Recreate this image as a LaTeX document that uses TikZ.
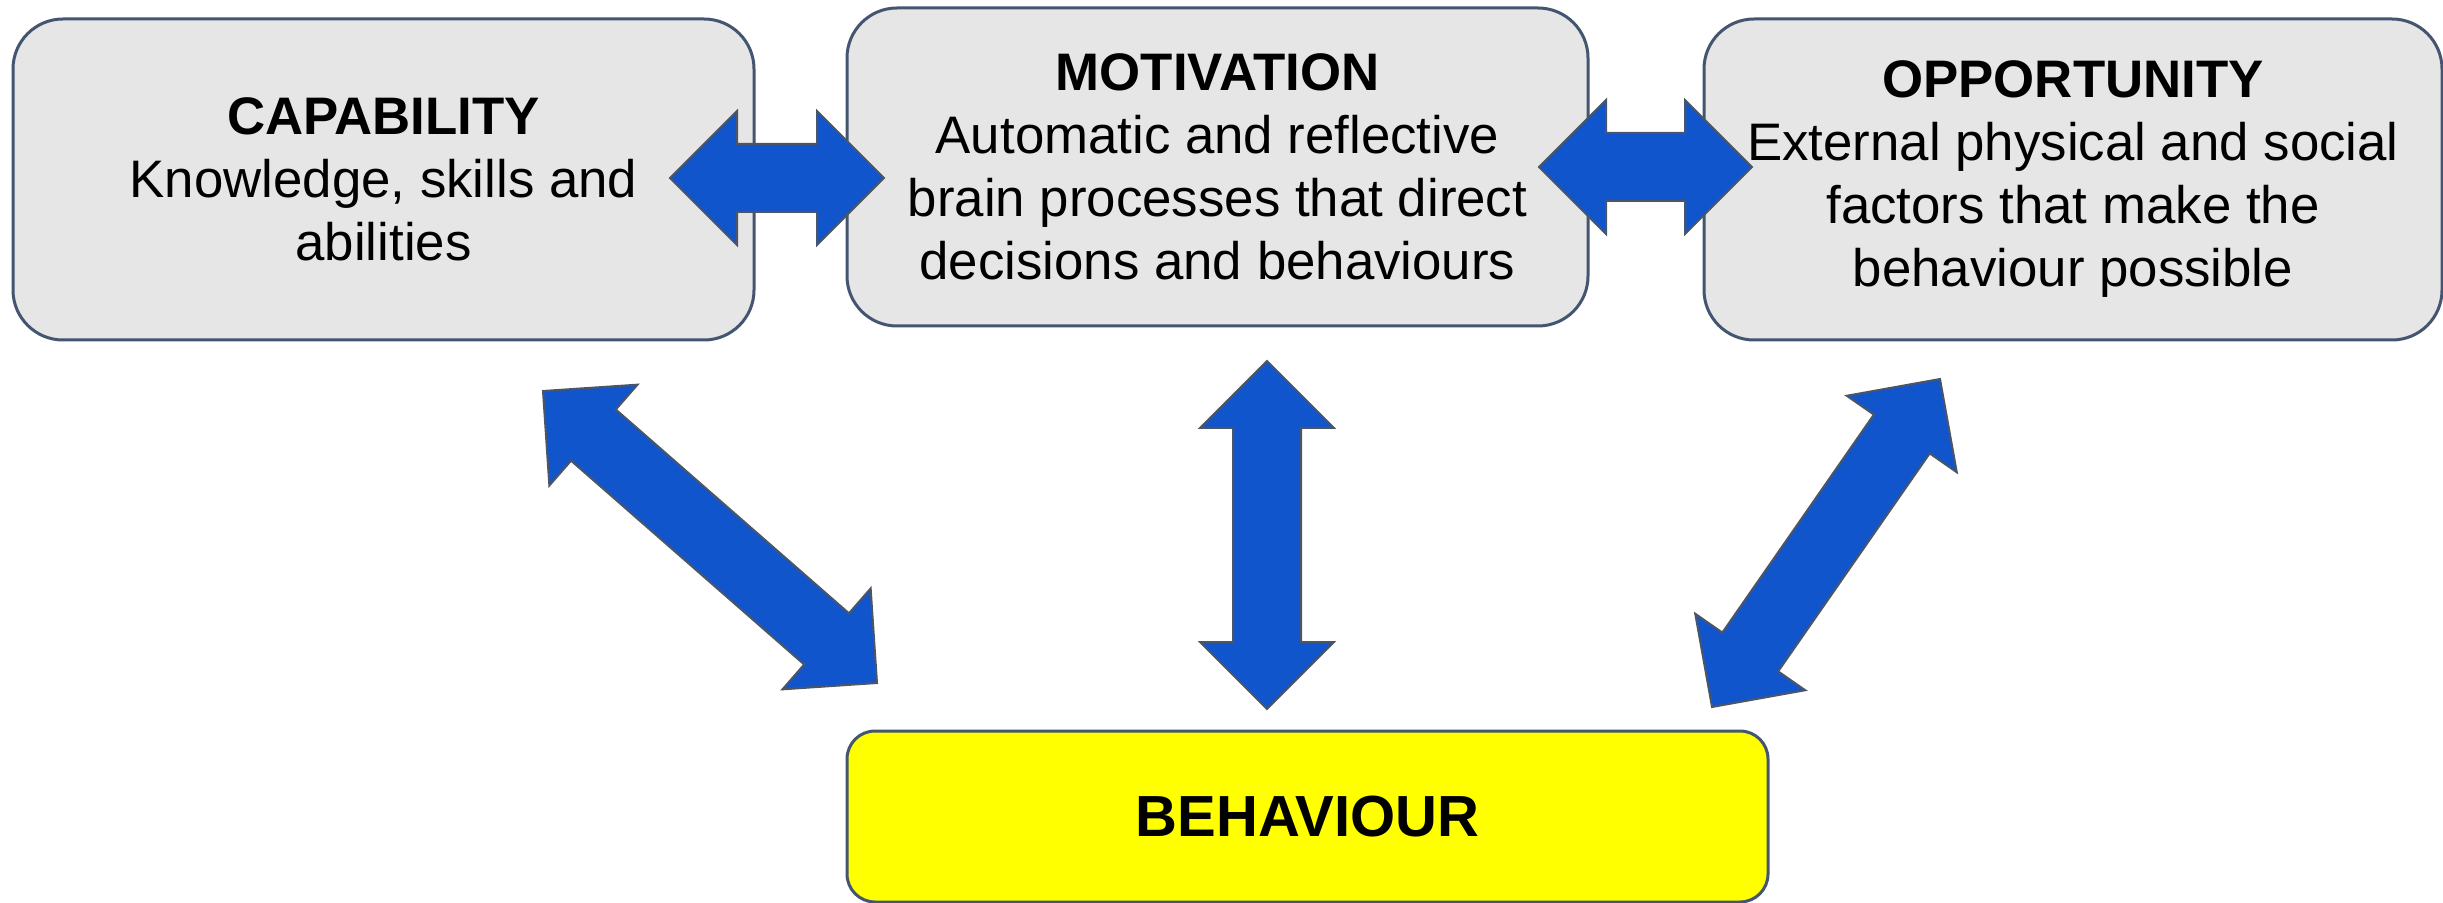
\documentclass[tikz,border=0pt]{standalone}
\usepackage{fontspec}
\setmainfont{Liberation Sans}
\usetikzlibrary{calc}

\definecolor{boxgrey}{HTML}{E6E6E6}
\definecolor{boxedge}{HTML}{435570}
\definecolor{targetyellow}{HTML}{FFFF00}
\definecolor{arrowblue}{HTML}{1155CC}
\definecolor{arrowedge}{HTML}{4A5568}

\begin{document}
\begin{tikzpicture}[
x=0.5pt,y=-0.5pt,
comp/.style={
	rectangle,minimum width=370.5pt,minimum height=160.5pt,rounded corners=25pt,
	draw=boxedge,line width=1.5pt,fill=boxgrey,outer sep=0pt,
	align=center,font=\fontsize{26.4pt}{31.5pt}\selectfont},
target/.style={
	comp,minimum width=460.5pt,minimum height=85.5pt,rounded corners=14pt,
	fill=targetyellow,font=\fontsize{29pt}{34pt}\selectfont\bfseries},
fatarrow/.style={
	draw=arrowedge,fill=arrowblue,line width=1pt,line join=miter,
	to path={
		($(\tikztostart)!33.5pt!(\tikztotarget)$) coordinate (fa-s)
		($(\tikztotarget)!33.5pt!(\tikztostart)$) coordinate (fa-t)
		(\tikztostart)
		-- ($(fa-s)!33.5pt!-90:(\tikztotarget)$)
		-- ($(fa-s)!17pt!-90:(\tikztotarget)$)
		-- ($(fa-t)!17pt!90:(\tikztostart)$)
		-- ($(fa-t)!33.5pt!90:(\tikztostart)$)
		-- (\tikztotarget)
		-- ($(fa-t)!33.5pt!-90:(\tikztostart)$)
		-- ($(fa-t)!17pt!-90:(\tikztostart)$)
		-- ($(fa-s)!17pt!90:(\tikztotarget)$)
		-- ($(fa-s)!33.5pt!90:(\tikztotarget)$)
		-- cycle}}
]
\useasboundingbox (0,0) rectangle (2443,903);

% the three components
\node[comp] (capa) at (383.5,179.5) {\textbf{CAPABILITY}\\Knowledge, skills and\\abilities};
\node[comp,minimum height=159pt] (moti) at (1217.5,167) {\textbf{MOTIVATION}\\Automatic and reflective\\brain processes that direct\\decisions and behaviours};
\node[comp,minimum width=369pt] (oppo) at (2073,179.5) {\textbf{OPPORTUNITY}\\External physical and social\\factors that make the\\behaviour possible};
\node[target] (beha) at (1307.5,816.5) {BEHAVIOUR};

% arrow ends
\coordinate (cm1) at ($(capa.east)+(-84,-1.5)$);
\coordinate (cm2) at ($(moti.west)+(37,11)$);
\coordinate (mo1) at ($(moti.east)+(-49,0)$);
\coordinate (mo2) at ($(oppo.west)+(48,-12.5)$);
\coordinate (mb1) at ($(moti.south)+(49.5,35)$);
\coordinate (mb2) at ($(beha.north)+(-40.5,-22)$);
\coordinate (cb1) at ($(capa.south)+(159.5,51)$);
\coordinate (cb2) at ($(beha.north west)+(30,-48)$);
\coordinate (ob1) at ($(oppo.south)+(-133,39)$);
\coordinate (ob2) at ($(beha.north east)+(-56,-24)$);

\draw[fatarrow] (cm1) to (cm2);
\draw[fatarrow] (mo1) to (mo2);
\draw[fatarrow] (mb1) to (mb2);
\draw[fatarrow] (cb1) to (cb2);
\draw[fatarrow] (ob1) to (ob2);
\end{tikzpicture}
\end{document}
